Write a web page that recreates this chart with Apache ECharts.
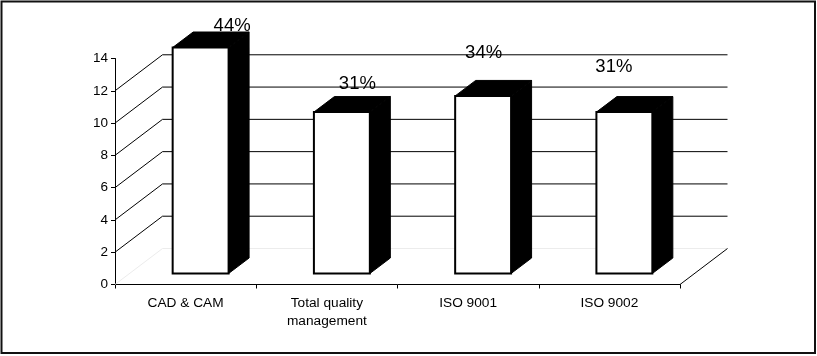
<!DOCTYPE html>
<html>
<head>
<meta charset="utf-8">
<script src="https://cdn.jsdelivr.net/npm/echarts@6/dist/echarts.min.js"></script>
<style>
  html, body { margin: 0; padding: 0; background: #fff; }
  #chart { width: 817px; height: 356px; }
</style>
</head>
<body>
<div id="chart"></div>
<script>
// Adoption of practices: respondent counts and their shares
const categories = ['CAD & CAM', 'Total quality\nmanagement', 'ISO 9001', 'ISO 9002'];
const counts = [14, 10, 11, 10];
const shares = ['44%', '31%', '34%', '31%'];
const wallTicks = [0, 2, 4, 6, 8, 10, 12];

// Oblique projection of the chart box and of the bars
const WALL_DX = 47.5, WALL_DY = -36;      // depth of the floor / side wall
const BAR_SHIFT_X = 15, BAR_SHIFT_Y = -11; // bars stand a third of the way back
const BAR_DX = 20.5, BAR_DY = -15.5;      // thickness of each bar
const BAR_RATIO = 0.396;
// hand-placed value labels, relative to the back-top edge of each bar
const LABEL_NUDGE = [[11, -6], [-5, -13], [-20, -28], [-31, -30]];

const FONT = '"Liberation Sans", Arial, sans-serif';

function renderWall(params, api) {
  const v = api.value(0);
  const cs = params.coordSys;
  const p = api.coord([0, v]);
  const xl = cs.x, xr = cs.x + cs.width;
  const y = p[1];
  const faint = v === 0;
  const stroke = faint ? '#ececec' : '#000';
  const children = [
    { type: 'line', shape: { x1: xl, y1: y, x2: xl + WALL_DX, y2: y + WALL_DY },
      style: { stroke: stroke, lineWidth: 1 } },
    { type: 'line', shape: { x1: xl + WALL_DX, y1: y + WALL_DY, x2: xr + WALL_DX, y2: y + WALL_DY },
      style: { stroke: stroke, lineWidth: 1 } }
  ];
  if (faint) {
    children.push({ type: 'line', shape: { x1: xr, y1: y, x2: xr + WALL_DX, y2: y + WALL_DY },
      style: { stroke: '#000', lineWidth: 1 } });
  }
  return { type: 'group', children: children };
}

function renderBar(params, api) {
  const i = api.value(0), v = api.value(1);
  const base = api.coord([i, 0]);
  const top = api.coord([i, v]);
  const band = api.size([1, 0])[0];
  const w = band * BAR_RATIO;
  const cx = base[0] + BAR_SHIFT_X;
  const x0 = cx - w / 2, x1 = cx + w / 2;
  const yb = base[1] + BAR_SHIFT_Y, yt = top[1] + BAR_SHIFT_Y;
  const nudge = LABEL_NUDGE[params.dataIndex];
  return {
    type: 'group',
    children: [
      { type: 'polygon', shape: { points: [[x0, yt], [x1, yt], [x1 + BAR_DX, yt + BAR_DY], [x0 + BAR_DX, yt + BAR_DY]] },
        style: { fill: '#000', stroke: '#000', lineWidth: 1 } },
      { type: 'polygon', shape: { points: [[x1, yt], [x1 + BAR_DX, yt + BAR_DY], [x1 + BAR_DX, yb + BAR_DY], [x1, yb]] },
        style: { fill: '#000', stroke: '#000', lineWidth: 1 } },
      { type: 'rect', shape: { x: x0, y: yt, width: w, height: yb - yt },
        style: { fill: '#fff', stroke: '#000', lineWidth: 2 } },
      { type: 'text',
        style: { text: shares[params.dataIndex], x: cx + BAR_DX + nudge[0], y: yt + BAR_DY + nudge[1],
                 align: 'center', verticalAlign: 'middle', fontSize: 18.5, fontFamily: FONT, fill: '#000' } }
    ]
  };
}

const chart = echarts.init(document.getElementById('chart'), null, { renderer: 'canvas' });
chart.setOption({
  animation: false,
  backgroundColor: '#fff',
  graphic: [{
    type: 'rect', shape: { x: 1.5, y: 1.5, width: 813.5, height: 351.5 },
    style: { fill: 'none', stroke: '#111', lineWidth: 2 }, z: 0
  }],
  grid: { left: 115, right: 137, top: 58.5, bottom: 71.5, containLabel: false },
  xAxis: {
    type: 'category',
    data: categories,
    boundaryGap: true,
    axisLine: { lineStyle: { color: '#000', width: 1 } },
    axisTick: { show: true, length: 4, lineStyle: { color: '#000' } },
    axisLabel: { color: '#000', fontSize: 13.7, fontFamily: FONT, margin: 10, lineHeight: 18, interval: 0 },
    splitLine: { show: false }
  },
  yAxis: {
    type: 'value',
    min: 0, max: 14, interval: 2,
    axisLine: { show: true, lineStyle: { color: '#000', width: 1 } },
    axisTick: { show: true, length: 4, lineStyle: { color: '#000' } },
    axisLabel: { color: '#000', fontSize: 13.5, fontFamily: FONT, margin: 7 },
    splitLine: { show: false }
  },
  series: [
    {
      type: 'custom',
      renderItem: renderWall,
      data: wallTicks.map(v => [v]),
      encode: { y: 0 },
      silent: true,
      z: 1
    },
    {
      type: 'custom',
      renderItem: renderBar,
      data: counts.map((c, i) => [i, c]),
      encode: { x: 0, y: 1 },
      z: 2
    }
  ]
});
</script>
</body>
</html>
